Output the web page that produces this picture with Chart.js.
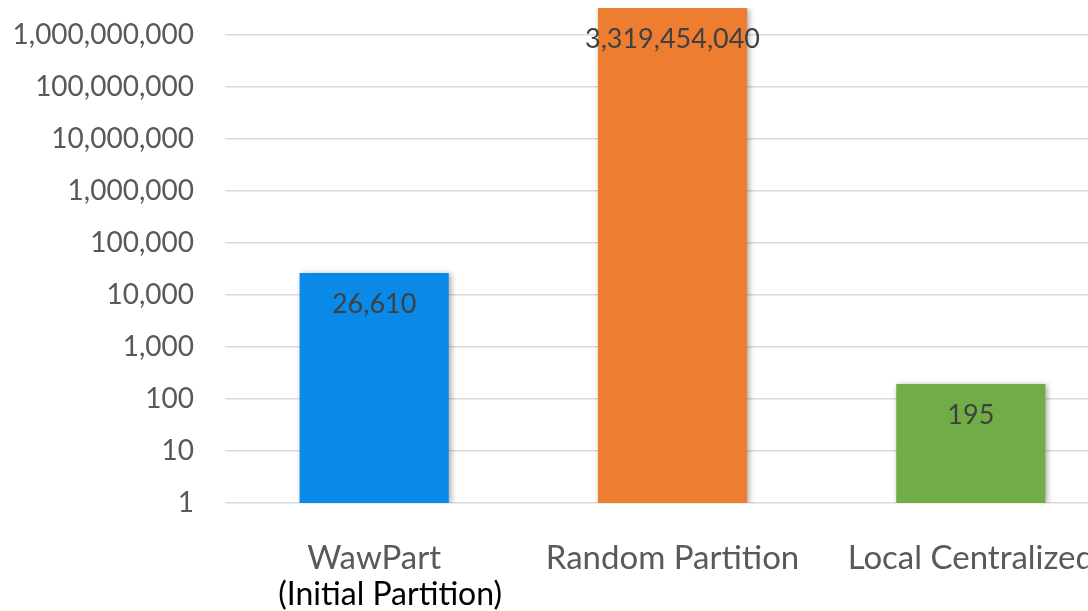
<!DOCTYPE html>
<html>
<head>
<meta charset="utf-8">
<script src="https://cdn.jsdelivr.net/npm/chart.js@4/dist/chart.umd.min.js"></script>
<style>
  html, body { margin: 0; padding: 0; background: #ffffff; overflow: hidden; }
  #wrap { width: 1088px; height: 611px; overflow: hidden; }
  canvas { display: block; }
</style>
</head>
<body>
<div id="wrap"><canvas id="c" width="1120" height="611"></canvas></div>
<script>
// Categories, values and tick marks of the chart
const categories = ['WawPart', 'Random Partition', 'Local Centralized'];
const subLabels = ['(Initial Partition)', '', ''];
const values = [26610, 3319454040, 195];
const barColors = ['#0A8AE8', '#ED7D31', '#70AD47'];
const yTickValues = [1, 10, 100, 1000, 10000, 100000, 1000000, 10000000, 100000000, 1000000000];

const FONT = 'Lato, "Open Sans", sans-serif';
const fmt = v => Number(v).toLocaleString('en-US');

// soft drop shadow under the bars
const barShadow = {
  id: 'barShadow',
  beforeDatasetDraw(chart) {
    const ctx = chart.ctx;
    ctx.save();
    ctx.shadowColor = 'rgba(0,0,0,0.35)';
    ctx.shadowBlur = 6;
    ctx.shadowOffsetX = 2;
    ctx.shadowOffsetY = 1;
  },
  afterDatasetDraw(chart) {
    chart.ctx.restore();
  }
};

// value labels inside the top of each bar
const valueLabels = {
  id: 'valueLabels',
  afterDatasetsDraw(chart) {
    const ctx = chart.ctx;
    const meta = chart.getDatasetMeta(0);
    ctx.save();
    ctx.font = '27px ' + FONT;
    ctx.fillStyle = '#404040';
    ctx.textAlign = 'center';
    ctx.textBaseline = 'middle';
    meta.data.forEach((bar, i) => {
      ctx.fillText(fmt(values[i]), bar.x, bar.y + 31);
    });
    ctx.restore();
  }
};

// second line of the category labels, drawn in black and indented a little
const subLabelLine = {
  id: 'subLabelLine',
  afterDraw(chart) {
    const ctx = chart.ctx;
    const xs = chart.scales.x;
    ctx.save();
    ctx.font = '32px ' + FONT;
    ctx.fillStyle = '#000000';
    ctx.textAlign = 'center';
    ctx.textBaseline = 'middle';
    subLabels.forEach((t, i) => {
      if (t) ctx.fillText(t, xs.getPixelForTick(i) + 16, 595);
    });
    ctx.restore();
  }
};

new Chart(document.getElementById('c'), {
  type: 'bar',
  data: {
    labels: categories,
    datasets: [{
      data: values,
      backgroundColor: barColors,
      borderWidth: 0,
      barPercentage: 0.5,
      categoryPercentage: 1.0
    }]
  },
  options: {
    responsive: false,
    devicePixelRatio: 1,
    animation: false,
    layout: { padding: { top: 8, right: 0, bottom: 0, left: 0 } },
    plugins: {
      legend: { display: false },
      tooltip: { enabled: false }
    },
    scales: {
      x: {
        grid: { display: false },
        border: { display: false },
        ticks: {
          color: '#595959',
          font: { family: FONT, size: 33 },
          padding: 28,
          maxRotation: 0,
          autoSkip: false
        },
        afterFit(s) {
          s.height = 108;
          s.paddingLeft = 0;
          s.paddingRight = 0;
        }
      },
      y: {
        type: 'logarithmic',
        min: 1,
        max: values[1],
        afterBuildTicks(s) { s.ticks = yTickValues.map(v => ({ value: v })); },
        grid: { color: '#d9d9d9', lineWidth: 1.5, drawTicks: false },
        border: { display: false },
        ticks: {
          color: '#595959',
          font: { family: FONT, size: 28 },
          padding: 31,
          callback: v => fmt(v)
        },
        afterFit(s) {
          s.width = 225;
          s.paddingTop = 0;
          s.paddingBottom = 0;
        }
      }
    }
  },
  plugins: [barShadow, valueLabels, subLabelLine]
});
</script>
</body>
</html>
